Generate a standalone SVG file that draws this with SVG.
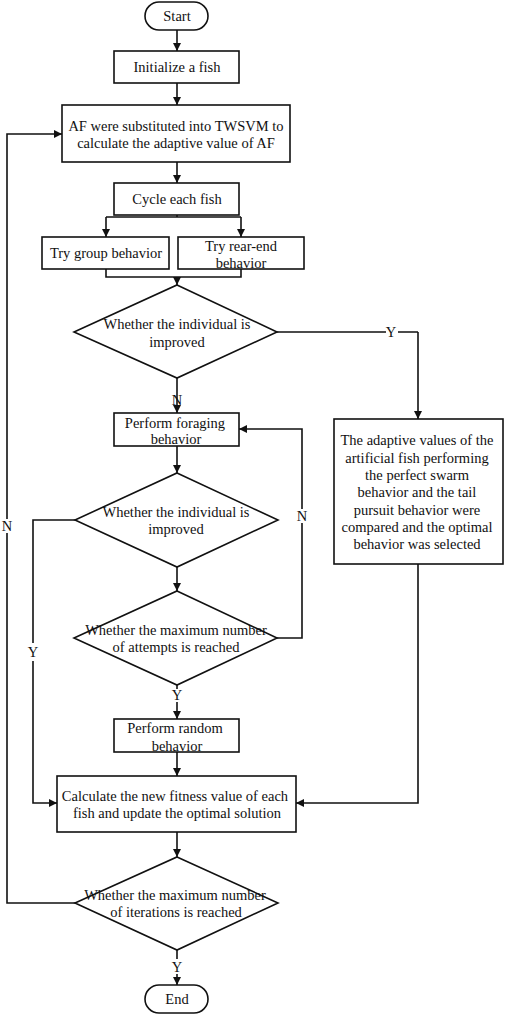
<svg xmlns="http://www.w3.org/2000/svg" width="505" height="1016" viewBox="0 0 505 1016">
<defs>
<marker id="ah" viewBox="0 0 10 10" refX="10" refY="5" markerWidth="8" markerHeight="8" markerUnits="userSpaceOnUse" orient="auto">
<path d="M0,0 L10,5 L0,10 Z" fill="#111"/>
</marker>
<style>
.n{fill:#fff;stroke:#111;stroke-width:1.6}
.c{fill:none;stroke:#111;stroke-width:1.6}
.a{marker-end:url(#ah)}
text{font-family:"Liberation Serif","Times New Roman",serif;font-size:14.5px;fill:#111;text-anchor:middle}
</style>
</defs>
<rect width="505" height="1016" fill="#fff"/>
<g id="connectors">
<path class="c a" d="M177,30 V51"/>
<path class="c a" d="M177,83 V105"/>
<path class="c a" d="M177,162 V183"/>
<path class="c" d="M177,215 V217 M106,217 H241"/>
<path class="c a" d="M106,217 V237"/>
<path class="c a" d="M241,217 V237"/>
<path class="c" d="M106,269 V277 H241 V269"/>
<path class="c a" d="M177,277 V285"/>
<path class="c" d="M277,332 H386 M398,332 H418"/>
<path class="c a" d="M418,332 V419"/>
<path class="c a" d="M177,378 V413"/>
<path class="c a" d="M177,446 V473"/>
<path class="c a" d="M177,567 V591"/>
<path class="c" d="M277,638 H302 V523"/>
<path class="c a" d="M302,509 V429 H239"/>
<path class="c" d="M75,520 H33 V643"/>
<path class="c a" d="M33,661 V803 H57"/>
<path class="c" d="M177,685 V689"/>
<path class="c a" d="M177,702 V719"/>
<path class="c a" d="M177,752 V776"/>
<path class="c a" d="M418,564 V803 H296"/>
<path class="c a" d="M177,832 V857"/>
<path class="c" d="M75,903 H7 V533"/>
<path class="c a" d="M7,519 V134 H62"/>
<path class="c" d="M177,950 V959"/>
<path class="c a" d="M177,974 V985"/>
<text x="391" y="337">Y</text>
<text x="177" y="405">N</text>
<text x="302" y="521">N</text>
<text x="33" y="657">Y</text>
<text x="177" y="700">Y</text>
<text x="7" y="531">N</text>
<text x="177" y="972">Y</text>
</g>
<g id="start"><rect class="n" x="145" y="2" width="63" height="28" rx="14"/><text x="177" y="21">Start</text></g>
<g id="init"><rect class="n" x="114" y="51" width="125" height="32"/><text x="177" y="72">Initialize a fish</text></g>
<g id="af"><rect class="n" x="62" y="105" width="228" height="57"/><text x="176" y="131">AF were substituted into TWSVM to</text><text x="176" y="148">calculate the adaptive value of AF</text></g>
<g id="cycle"><rect class="n" x="114" y="183" width="125" height="32"/><text x="177" y="204">Cycle each fish</text></g>
<g id="group"><rect class="n" x="42" y="237" width="127" height="32"/><text x="106" y="258">Try group behavior</text></g>
<g id="rear"><rect class="n" x="178" y="237" width="126" height="32"/><text x="241" y="251">Try rear-end</text><text x="241" y="268">behavior</text></g>
<g id="d1"><path class="n" d="M177,285 L277,332 L177,378 L74,332 Z"/><text x="177" y="329">Whether the individual is</text><text x="177" y="347">improved</text></g>
<g id="forage"><rect class="n" x="114" y="413" width="125" height="33"/><text x="175" y="428">Perform foraging</text><text x="176" y="444">behavior</text></g>
<g id="right"><rect class="n" x="334" y="419" width="169" height="145"/>
<text x="417" y="445">The adaptive values of the</text>
<text x="417" y="463">artificial fish performing</text>
<text x="417" y="480">the perfect swarm</text>
<text x="417" y="497">behavior and the tail</text>
<text x="417" y="515">pursuit behavior were</text>
<text x="417" y="532">compared and the optimal</text>
<text x="417" y="549">behavior was selected</text></g>
<g id="d2"><path class="n" d="M177,473 L278,520 L177,567 L75,520 Z"/><text x="176" y="517">Whether the individual is</text><text x="176" y="534">improved</text></g>
<g id="d3"><path class="n" d="M177,591 L277,638 L177,685 L74,638 Z"/><text x="176" y="635">Whether the maximum number</text><text x="176" y="652">of attempts is reached</text></g>
<g id="random"><rect class="n" x="114" y="719" width="125" height="33"/><text x="175" y="733">Perform random</text><text x="177" y="751">behavior</text></g>
<g id="calc"><rect class="n" x="57" y="776" width="239" height="56"/><text x="175" y="801">Calculate the new fitness value of each</text><text x="177" y="818">fish and update the optimal solution</text></g>
<g id="d4"><path class="n" d="M177,857 L278,903 L177,950 L75,903 Z"/><text x="175" y="900">Whether the maximum number</text><text x="176" y="917">of iterations is reached</text></g>
<g id="end"><rect class="n" x="145" y="985" width="63" height="28" rx="14"/><text x="177" y="1004">End</text></g>
</svg>
